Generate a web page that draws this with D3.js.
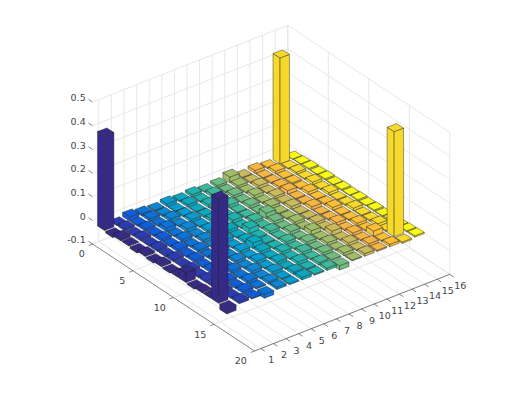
<!DOCTYPE html>
<html>
<head>
<meta charset="utf-8">
<script src="https://cdn.jsdelivr.net/npm/d3@7"></script>
<style>
  html, body { margin: 0; padding: 0; background: #fff; }
  text { font-family: "DejaVu Sans", sans-serif; font-size: 9.5px; fill: #454545; }
</style>
</head>
<body>
<svg id="chart" width="526" height="394"></svg>
<script>
// --- DATA ---
const xTicks = [1, 2, 3, 4, 5, 6, 7, 8, 9, 10, 11, 12, 13, 14, 15, 16];
const yTicks = [0, 5, 10, 15, 20];
const zTicks = [-0.1, 0, 0.1, 0.2, 0.3, 0.4, 0.5];

// one colour per column (x = 1..16)
const barColors = ["#352a87", "#2b3bb4", "#0f5cdd", "#0b72d9", "#0e86d4", "#079ccf", "#0aa8c0", "#1eb3ae",
                   "#3dba9a", "#6fbc80", "#a0bd68", "#c9bb5c", "#f5b545", "#fcc038", "#f6d92a", "#f9fb15"];

// rows y = 1..16, columns x = 1..16
const row01 = [0.399, 0.004, 0.017, 0.010, 0.005, 0.012, 0.006, 0.011, 0.004, 0.009, 0.025, 0.004, 0.012, 0.005, 0.448, 0.001];
const row02 = [-0.008, 0.010, 0.004, 0.012, 0.006, 0.004, 0.011, 0.005, 0.013, 0.004, 0.010, 0.005, 0.004, 0.011, 0.004, 0.003];
const row03 = [0.012, 0.003, 0.011, 0.005, 0.013, 0.007, 0.004, 0.012, 0.005, 0.011, 0.004, 0.012, 0.006, 0.004, 0.009, 0.005];
const row04 = [0.003, 0.012, 0.005, 0.016, 0.004, 0.011, 0.006, 0.004, 0.012, 0.005, 0.013, 0.004, 0.010, 0.006, 0.004, 0.003];
const row05 = [-0.007, 0.004, 0.011, 0.005, 0.014, 0.005, 0.012, 0.005, 0.004, 0.012, 0.005, 0.011, 0.015, 0.004, 0.011, 0.005];
const row06 = [0.008, 0.011, 0.004, 0.012, 0.005, 0.010, 0.004, 0.013, 0.006, 0.004, 0.011, 0.006, 0.004, 0.012, 0.005, 0.003];
const row07 = [-0.006, 0.004, 0.012, 0.004, 0.011, 0.005, 0.012, 0.004, 0.011, 0.024, 0.004, 0.012, 0.005, 0.004, 0.011, 0.005];
const row08 = [0.009, 0.012, 0.005, 0.011, 0.004, 0.012, 0.005, 0.022, 0.005, 0.012, 0.005, 0.004, 0.013, 0.006, 0.004, 0.003];
const row09 = [-0.004, 0.004, 0.011, 0.005, 0.012, 0.004, 0.011, 0.005, 0.012, 0.004, 0.011, 0.006, 0.004, 0.012, 0.005, 0.005];
const row10 = [0.004, 0.011, 0.004, 0.012, 0.005, 0.011, 0.024, 0.004, 0.005, 0.012, 0.004, 0.011, 0.005, 0.004, 0.011, 0.003];
const row11 = [0.040, 0.004, 0.012, 0.005, 0.011, 0.004, 0.012, 0.005, 0.011, 0.004, 0.018, 0.005, 0.012, 0.005, 0.004, 0.005];
const row12 = [-0.006, 0.012, 0.005, 0.011, 0.004, 0.012, 0.005, 0.011, 0.004, 0.012, 0.005, 0.018, 0.004, 0.011, 0.005, 0.003];
const row13 = [0.003, 0.004, 0.011, 0.004, 0.012, 0.005, 0.011, 0.004, 0.012, 0.005, 0.011, 0.004, 0.012, 0.005, 0.011, 0.005];
const row14 = [0.003, 0.011, 0.004, 0.012, 0.005, 0.011, 0.004, 0.012, 0.005, 0.011, 0.004, 0.012, 0.005, 0.022, 0.004, 0.003];
const row15 = [0.440, 0.004, 0.012, 0.005, 0.011, 0.004, 0.012, 0.005, 0.011, 0.004, 0.012, 0.005, 0.011, 0.004, 0.444, 0.005];
const row16 = [-0.023, 0.011, 0.004, -0.017, 0.009, 0.004, 0.011, 0.005, 0.010, -0.018, 0.004, 0.011, 0.005, 0.010, -0.006, 0.006];
const matrix = [row01, row02, row03, row04, row05, row06, row07, row08, row09, row10, row11, row12, row13, row14, row15, row16];

// --- PROJECTION (fixed MATLAB-style view) ---
const origin = [92.5, 244];
const xFrac = d3.scaleLinear().domain([0.5, 16]).range([0, 1]);   // fraction along each floor edge
const yFrac = d3.scaleLinear().domain([0, 20]).range([0, 1]);
const zFrac = d3.scaleLinear().domain([-0.1, 0.5]).range([0, 1]);
const xEdge = [195.3, -76.7];
const yEdge = [162, 107];
const zEdge = [0, -142];

function project(x, y, z) {
  const a = xFrac(x), b = yFrac(y), c = zFrac(z);
  return [origin[0] + a * xEdge[0] + b * yEdge[0] + c * zEdge[0],
          origin[1] + a * xEdge[1] + b * yEdge[1] + c * zEdge[1]];
}

// the bars sit on their own lattice, a little tighter than the ticks
const barOrigin = [85, 226];
const barX = [12.54, -4.75];
const barY = [8.15, 5.2];
const barZ = d3.scaleLinear().domain([0, 0.1]).range([0, -23.67]);
const halfX = 0.375, halfY = 0.43;

function projectBar(x, y, z) {
  return [barOrigin[0] + x * barX[0] + y * barY[0],
          barOrigin[1] + x * barX[1] + y * barY[1] + barZ(z)];
}

const svg = d3.select("#chart");
const line = d3.line();
const poly = pts => line(pts) + "Z";

// --- GRID ---
const grid = svg.append("g").attr("fill", "none").attr("stroke", "#e4e4e4").attr("stroke-width", 0.9);
const gridLines = [];
xTicks.forEach(t => {
  gridLines.push([project(t, 0, -0.1), project(t, 20, -0.1)]);
  gridLines.push([project(t, 0, -0.1), project(t, 0, 0.5)]);
});
yTicks.forEach(t => {
  gridLines.push([project(0.5, t, -0.1), project(16, t, -0.1)]);
  gridLines.push([project(16, t, -0.1), project(16, t, 0.5)]);
});
zTicks.forEach(t => {
  gridLines.push([project(0.5, 0, t), project(16, 0, t)]);
  gridLines.push([project(16, 0, t), project(16, 20, t)]);
});
grid.selectAll("path").data(gridLines).join("path").attr("d", line);

// --- AXES ---
const axes = svg.append("g").attr("fill", "none").attr("stroke", "#505050").attr("stroke-width", 0.7);
axes.append("path").attr("d", line([project(0.5, 0, -0.1), project(0.5, 20, -0.1)]));
axes.append("path").attr("d", line([project(0.5, 20, -0.1), project(16, 20, -0.1)]));
axes.selectAll(".tx").data(xTicks).join("path").attr("class", "tx")
  .attr("d", t => line([project(t, 20, -0.1), project(t, 20.5, -0.1)]));
axes.selectAll(".ty").data(yTicks).join("path").attr("class", "ty")
  .attr("d", t => line([project(0.5, t, -0.1), project(0.2, t, -0.1)]));
axes.selectAll(".tz").data(zTicks).join("path").attr("class", "tz")
  .attr("d", t => line([project(0.5, 0, t), project(0.5, -0.5, t)]));

svg.append("g").selectAll("text").data(xTicks).join("text")
  .attr("x", t => project(t, 20, -0.1)[0] + 10.5)
  .attr("y", t => project(t, 20, -0.1)[1] + 11.5)
  .attr("dy", "0.36em").attr("text-anchor", "middle").text(t => t);
svg.append("g").selectAll("text").data(yTicks).join("text")
  .attr("x", t => project(0.5, t, -0.1)[0] - 7.7)
  .attr("y", t => project(0.5, t, -0.1)[1] + 10)
  .attr("dy", "0.36em").attr("text-anchor", "end").text(t => t);
svg.append("g").selectAll("text").data(zTicks).join("text")
  .attr("x", t => project(0.5, 0, t)[0] - 6.8)
  .attr("y", t => project(0.5, 0, t)[1] - 4)
  .attr("dy", "0.36em").attr("text-anchor", "end").text(t => t);

// --- BARS (painter's order: far columns first, far rows first) ---
const cells = [];
matrix.forEach((row, i) => row.forEach((v, j) => cells.push({ x: j + 1, y: i + 1, v })));
cells.sort((a, b) => b.x - a.x || a.y - b.y);

const bars = svg.append("g").attr("stroke", "#202020").attr("stroke-opacity", 0.8)
  .attr("stroke-width", 0.55).attr("stroke-linejoin", "round");
cells.forEach(c => {
  const x0 = c.x - halfX, x1 = c.x + halfX, y0 = c.y - halfY, y1 = c.y + halfY;
  const zTop = Math.max(c.v, 0), zBot = Math.min(c.v, 0);
  const faces = [
    [projectBar(x0, y0, zBot), projectBar(x0, y1, zBot), projectBar(x0, y1, zTop), projectBar(x0, y0, zTop)],
    [projectBar(x0, y1, zBot), projectBar(x1, y1, zBot), projectBar(x1, y1, zTop), projectBar(x0, y1, zTop)],
    [projectBar(x0, y0, zTop), projectBar(x1, y0, zTop), projectBar(x1, y1, zTop), projectBar(x0, y1, zTop)]
  ];
  bars.append("g").attr("fill", barColors[c.x - 1]).selectAll("path").data(faces).join("path").attr("d", poly);
});
</script>
</body>
</html>
